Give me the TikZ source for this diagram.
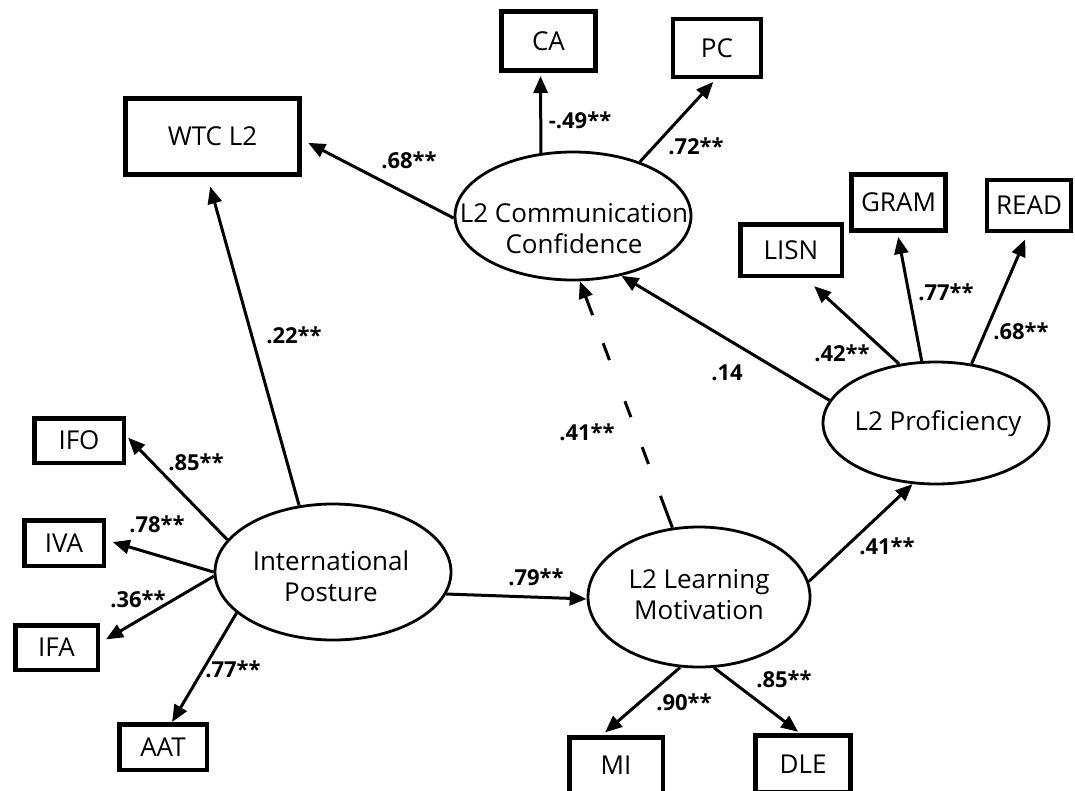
\documentclass[tikz,border=0pt]{standalone}
\usepackage{fontspec}
\setmainfont{Open Sans}
\usetikzlibrary{arrows.meta,shapes.geometric}

\begin{document}
\begin{tikzpicture}[x=1pt,y=-1pt,
  box/.style={draw, rectangle, line width=4.5pt, inner sep=0pt,
    font=\fontsize{26}{30}\selectfont},
  latent/.style={draw, ellipse, line width=2.8pt, inner sep=0pt},
  ltext/.style={align=center, inner sep=0pt, font=\fontsize{26}{31}\selectfont},
  link/.style={line width=3pt, -{Triangle[length=17pt,width=14pt]}},
  dashline/.style={dash pattern=on 34pt off 34pt on 18pt off 32pt on 17pt off 44pt on 18pt off 30pt on 80pt off 1pt},
  coef/.style={inner sep=0pt, font=\bfseries\fontsize{22}{26}\selectfont},
]
\useasboundingbox (0,0) rectangle (1075,790);
\clip (0,0) rectangle (1075,790);

% latent variables
\node[latent, minimum width=236pt, minimum height=128pt] (l2cc) at (573,216) {};
\node[latent, minimum width=226pt, minimum height=122pt] (l2p)  at (936,423) {};
\node[latent, minimum width=236pt, minimum height=136pt] (ip)   at (333,572) {};
\node[latent, minimum width=222pt, minimum height=140pt] (l2lm) at (699,597) {};

\node[ltext] (l2cc-t) at (574,229) {L2 Communication\\Confidence};
\node[ltext] (l2p-t)  at (938,424) {L2 Proficiency};
\node[ltext] (ip-t)   at (331,576) {International\\Posture};
\node[ltext] (l2lm-t) at (699,595) {L2 Learning\\Motivation};

% observed variables
\node[box, line width=5pt, minimum width=174pt, minimum height=76pt] (wtc) at (212.5,136.5) {WTC L2};
\node[box, line width=5pt, minimum width=94pt, minimum height=59pt] (ca) at (548.5,41) {CA};
\node[box, line width=4pt, minimum width=88pt, minimum height=58pt] (pc) at (717,48) {PC};
\node[box, minimum width=101.5pt, minimum height=51.5pt] (lisn) at (791,250) {LISN};
\node[box, line width=5pt, minimum width=94pt, minimum height=56pt] (gram) at (898.5,202.5) {GRAM};
\node[box, line width=4pt, minimum width=84pt, minimum height=51pt] (read) at (1029,205.5) {READ};
\node[box, minimum width=89.5pt, minimum height=44.5pt] (ifo) at (79,440.5) {IFO};
\node[box, minimum width=79.5pt, minimum height=45.5pt] (iva) at (64,543) {IVA};
\node[box, minimum width=82.5pt, minimum height=44.5pt] (ifa) at (56.5,647.5) {IFA};
\node[box, minimum width=87.5pt, minimum height=45.5pt] (aat) at (163,747) {AAT};
\node[box, minimum width=93.5pt, minimum height=55.5pt] (mi) at (616,765) {MI};
\node[box, line width=5pt, minimum width=95pt, minimum height=57pt] (dle) at (803,764) {DLE};

% structural paths
\draw[link, shorten >=7pt] (l2cc.181) -- (wtc.-2);
\draw[link, shorten >=10pt] (ip.117) -- (wtc.-97.5);
\draw[link] (l2p.168) -- (l2cc.-51.7);
\draw[link, dashline] (l2lm.111.7) -- (l2cc.-84);
\draw[link] (ip.-11.7) -- (l2lm.181.5);
\draw[link] (l2lm.8) -- (l2p.-111);

% measurement paths
\draw[link, shorten >=3pt] (l2cc.117.6) -- (ca.-104.9);
\draw[link, shorten >=4pt] (l2cc.39.6) -- (pc.-92.2);
\draw[link, shorten >=12pt] (l2p.122.3) -- (lisn.-63.1);
\draw[link, shorten >=4pt] (l2p.103.1) -- (gram.-92.4);
\draw[link, shorten >=7pt] (l2p.59) -- (read.-92);
\draw[link, shorten >=3pt] (ip.163.8) -- (ifo.6.9);
\draw[link, shorten >=7pt] (ip.180) -- (iva.4.2);
\draw[link, shorten >=7pt] (ip.182.9) -- (ifa.6.7);
\draw[link] (ip.203.1) -- (aat.70.4);
\draw[link, shorten >=4pt] (l2lm.-105.2) -- (mi.115.8);
\draw[link, shorten >=2pt] (l2lm.-78.7) -- (dle.96.8);

% path coefficients
\node[coef] (k-wtc)  at (409,160) {.68**};
\node[coef] (k-ca)   at (580,120) {-.49**};
\node[coef] (k-pc)   at (696,146) {.72**};
\node[coef] (k-ip)   at (294,335) {.22**};
\node[coef] (k-p)    at (727,373) {.14};
\node[coef] (k-lisn) at (842,353) {.42**};
\node[coef] (k-gram) at (946,292) {.77**};
\node[coef] (k-read) at (1021,331) {.68**};
\node[coef] (k-mot)  at (587,432) {.41**};
\node[coef] (k-ifo)  at (196,462) {.85**};
\node[coef] (k-iva)  at (157,524) {.78**};
\node[coef] (k-ifa)  at (138,599) {.36**};
\node[coef] (k-aat)  at (233,669) {.77**};
\node[coef] (k-lm)   at (536,577) {.79**};
\node[coef] (k-prof) at (887,546) {.41**};
\node[coef] (k-mi)   at (684,702) {.90**};
\node[coef] (k-dle)  at (784,679) {.85**};
\end{tikzpicture}
\end{document}
